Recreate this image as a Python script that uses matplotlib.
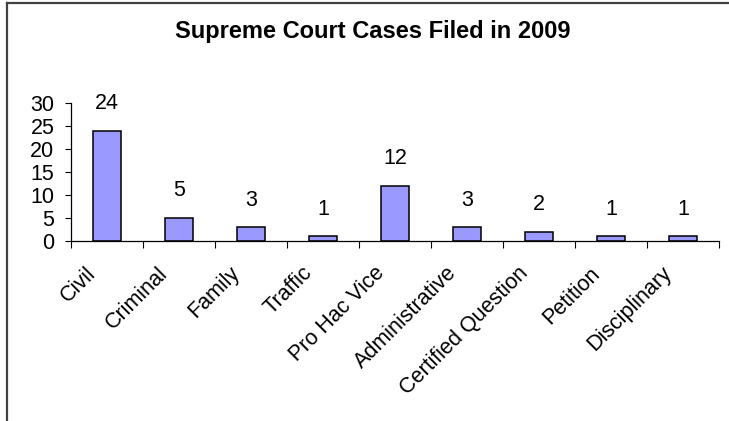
import matplotlib
matplotlib.use("Agg")
import matplotlib.pyplot as plt
from matplotlib.lines import Line2D
import matplotlib.transforms as mtransforms
import numpy as np

categories = ["Civil", "Criminal", "Family", "Traffic", "Pro Hac Vice",
              "Administrative", "Certified Question", "Petition", "Disciplinary"]
cases = [24, 5, 3, 1, 12, 3, 2, 1, 1]
y_ticks = [0, 5, 10, 15, 20, 25, 30]

plt.rcParams['font.family'] = ['Liberation Sans', 'DejaVu Sans']

fig = plt.figure(figsize=(7.29, 4.21), dpi=100)
ax = fig.add_axes([0.0974, 0.4276, 0.8889, 0.3278])

x = np.arange(len(categories))
ax.bar(x, cases, width=0.39, color="#9999FF", edgecolor="black", linewidth=1.1)

for xi, v in zip(x, cases):
    ax.annotate(str(v), (xi, v), xytext=(0, 19.5), textcoords="offset points",
                ha="center", va="center", fontsize=15.5)

ax.set_xlim(-0.5, len(categories) - 0.5)
ax.set_ylim(0, 30)
ax.set_yticks(y_ticks)
ax.tick_params(axis="y", labelsize=15.5, length=4, width=0.8, pad=8)

ax.set_xticks(x)
ax.set_xticks(np.arange(len(categories) + 1) - 0.5, minor=True)
ax.tick_params(axis="x", which="major", length=0, pad=21)
ax.tick_params(axis="x", which="minor", length=5, width=0.8)
ax.set_xticklabels(categories, rotation=45, ha="right", va="center",
                   rotation_mode="anchor", fontsize=15.5)
# excel puts the rotated labels a bit left of the category centre
shift = mtransforms.ScaledTranslation(-14 / 100, 0, fig.dpi_scale_trans)
for lbl in ax.get_xticklabels():
    lbl.set_transform(lbl.get_transform() + shift)

for s in ["top", "right"]:
    ax.spines[s].set_visible(False)
for s in ["left", "bottom"]:
    ax.spines[s].set_linewidth(0.9)

fig.text(0.511, 0.926, "Supreme Court Cases Filed in 2009", ha="center",
         va="center", fontsize=17, fontweight="bold")

# outer chart border (cropped at right and bottom)
fig.add_artist(Line2D([6.5 / 729, 6.5 / 729], [0, 1 - 2.5 / 421],
                      color="#404040", linewidth=1.6, transform=fig.transFigure))
fig.add_artist(Line2D([6.5 / 729, 1], [1 - 2.5 / 421, 1 - 2.5 / 421],
                      color="#404040", linewidth=1.6, transform=fig.transFigure))

fig.savefig("out.png", dpi=100)
